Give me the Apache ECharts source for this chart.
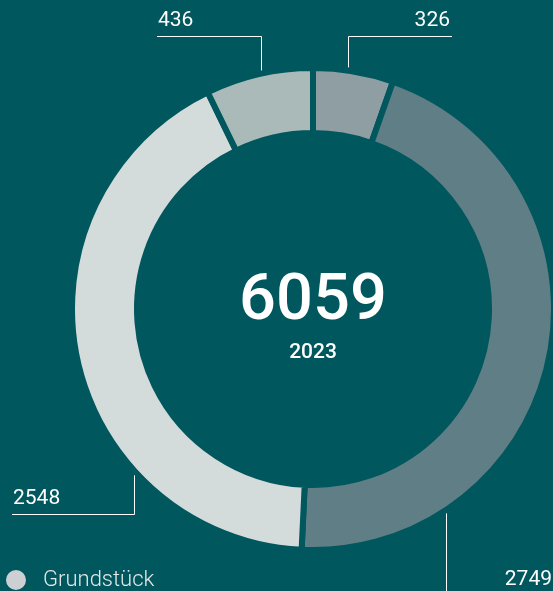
<!DOCTYPE html>
<html>
<head>
<meta charset="utf-8">
<script src="https://cdn.jsdelivr.net/npm/echarts@6/dist/echarts.min.js"></script>
<style>
  html, body { margin: 0; padding: 0; background: #00575d; }
  #chart { width: 553px; height: 591px; }
</style>
</head>
<body>
<div id="chart"></div>
<script>
const categories = ['Wohnungseigentum', 'Ein- und Zweifamilienhäuser', 'Grundstück', 'Mehrfamilienhäuser']
const values = [326, 2749, 2548, 436]
const year = '2023'
const legendItems = ['Grundstück']

const colors = ['#8f9ea3', '#5f7e86', '#d4dbdb', '#a9bab8']
const bg = '#00575d'

// donut geometry (px)
const cx = 313
const cy = 309
const rOuter = 238
const rInner = 179
const gap = 3

// callout shape per slice: vertical line at vx, horizontal line at hy, ending at ex
const callouts = [
  { vx: 348, hy: 36, ex: 452, side: 'top', align: 'right' },
  { vx: 446, hy: 595, ex: 600, side: 'bottom', align: 'right', tx: 552 },
  { vx: 134, hy: 514, ex: 12, side: 'bottom', align: 'left' },
  { vx: 261, hy: 36, ex: 157, side: 'top', align: 'left' }
]

const total = values.reduce((a, b) => a + b, 0)

const chart = echarts.init(document.getElementById('chart'))

chart.setOption({
  backgroundColor: bg,
  textStyle: { fontFamily: 'Roboto' },
  legend: {
    data: legendItems.map(n => ({ name: n, itemStyle: { color: '#cdd0d3' } })),
    left: -1,
    top: 563,
    icon: 'circle',
    itemWidth: 22,
    itemHeight: 22,
    selectedMode: false,
    textStyle: {
      color: '#e4e8e8',
      fontSize: 22,
      fontWeight: 300,
      fontFamily: 'Roboto',
      padding: [0, 0, 0, 11]
    }
  },
  graphic: [
    {
      type: 'text',
      x: cx,
      y: 303,
      style: {
        text: String(total),
        fill: '#ffffff',
        font: '500 65px Roboto',
        textAlign: 'center',
        textVerticalAlign: 'middle'
      }
    },
    {
      type: 'text',
      x: cx,
      y: 353,
      style: {
        text: year,
        fill: '#ffffff',
        font: '500 21px Roboto',
        textAlign: 'center',
        textVerticalAlign: 'middle'
      }
    }
  ],
  series: [
    {
      type: 'pie',
      center: [cx, cy],
      radius: [rInner - gap, rOuter + gap],
      startAngle: 90,
      clockwise: true,
      avoidLabelOverlap: false,
      silent: true,
      itemStyle: { borderColor: bg, borderWidth: gap * 2 },
      label: {
        show: true,
        position: 'outside',
        color: '#ffffff',
        fontSize: 21,
        fontWeight: 400,
        fontFamily: 'Roboto',
        formatter: '{c}'
      },
      labelLine: {
        show: true,
        lineStyle: { color: '#ffffff', width: 1 }
      },
      labelLayout: function (p) {
        const c = callouts[p.dataIndex]
        const dy = Math.sqrt(Math.max(0, rOuter * rOuter - (c.vx - cx) * (c.vx - cx)))
        const y0 = c.side === 'top' ? cy - dy - 6 : cy + dy + 7
        const tx = c.tx !== undefined ? c.tx : (c.align === 'left' ? Math.min(c.vx, c.ex) + 1 : Math.max(c.vx, c.ex) - 2)
        return {
          x: tx,
          y: c.hy - 15,
          align: c.align,
          verticalAlign: 'middle',
          labelLinePoints: [[c.vx + 0.5, y0], [c.vx + 0.5, c.hy + 0.5], [c.ex, c.hy + 0.5]]
        }
      },
      data: categories.map((name, i) => ({
        name: name,
        value: values[i],
        itemStyle: { color: colors[i] }
      }))
    }
  ]
})
</script>
</body>
</html>
